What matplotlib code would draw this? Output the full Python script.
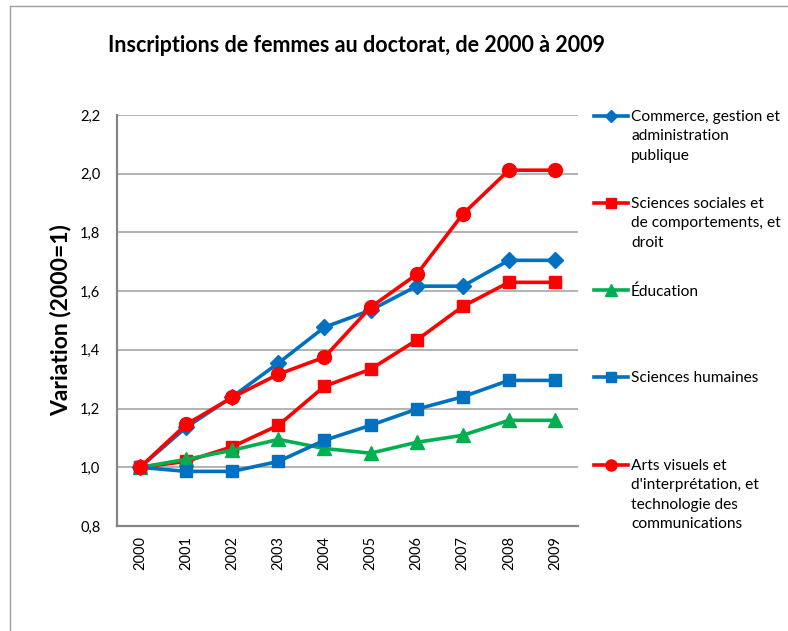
import matplotlib
matplotlib.use("Agg")
import matplotlib.pyplot as plt
from matplotlib.lines import Line2D

plt.rcParams['font.family'] = ['Lato', 'DejaVu Sans']

years = ['2000', '2001', '2002', '2003', '2004', '2005', '2006', '2007', '2008', '2009']
commerce = [1.0, 1.136, 1.240, 1.355, 1.477, 1.535, 1.617, 1.617, 1.705, 1.705]
sciences_sociales = [1.0, 1.020, 1.070, 1.143, 1.276, 1.334, 1.433, 1.548, 1.630, 1.630]
education = [1.0, 1.027, 1.058, 1.095, 1.064, 1.048, 1.085, 1.109, 1.160, 1.160]
sciences_humaines = [1.0, 0.986, 0.986, 1.020, 1.092, 1.143, 1.198, 1.240, 1.296, 1.296]
arts = [1.0, 1.146, 1.238, 1.317, 1.375, 1.545, 1.657, 1.862, 2.012, 2.012]

labels = ["Commerce, gestion et\nadministration\npublique",
          "Sciences sociales et\nde comportements, et\ndroit",
          "Éducation",
          "Sciences humaines",
          "Arts visuels et\nd'interprétation, et\ntechnologie des\ncommunications"]
yticks = [0.8, 1.0, 1.2, 1.4, 1.6, 1.8, 2.0, 2.2]
ytick_labels = ['0,8', '1,0', '1,2', '1,4', '1,6', '1,8', '2,0', '2,2']

BLUE = '#0070C0'
RED = '#FF0000'
GREEN = '#00B050'

series = [
    (commerce, BLUE, 'D', 8),
    (sciences_sociales, RED, 's', 8.5),
    (education, GREEN, '^', 10),
    (sciences_humaines, BLUE, 's', 8.5),
    (arts, RED, 'o', 10),
]

W, H = 788, 631
fig = plt.figure(figsize=(W / 100, H / 100), dpi=100)
ax = fig.add_axes([117 / W, 1 - 526 / H, (578 - 117) / W, (526 - 115) / H])

x = list(range(len(years)))
for vals, col, mk, ms in series:
    ax.plot(x, vals, color=col, lw=2.6, marker=mk, markersize=ms,
            markerfacecolor=col, markeredgecolor=col, zorder=3, clip_on=False)

ax.set_xlim(-0.5, len(years) - 0.5)
ax.set_ylim(0.8, 2.2)
ax.set_yticks(yticks)
ax.set_yticklabels(ytick_labels, fontsize=10.5)
ax.set_xticks(x)
ax.set_xticklabels(years, rotation=90, fontsize=10.5)
ax.tick_params(axis='both', length=0, pad=7)
ax.tick_params(axis='y', pad=12)
ax.yaxis.grid(True, color='#A6A6A6', lw=1.2)
ax.set_axisbelow(True)
for s in ['top', 'right']:
    ax.spines[s].set_visible(False)
for s in ['left', 'bottom']:
    ax.spines[s].set_color('#868686')
    ax.spines[s].set_linewidth(1.6)

ax.set_ylabel('Variation (2000=1)', fontsize=16.5, fontweight='bold', va='center')
ax.yaxis.set_label_coords(-(117 - 61) / (578 - 117), 0.5)

fig.text(357 / W, 1 - 45 / H, 'Inscriptions de femmes au doctorat, de 2000 à 2009',
         ha='center', va='center', fontsize=15.5, fontweight='bold')

# legend (manual)
leg_y = [116, 203, 290, 377, 465]
for (vals, col, mk, ms), lab, yy in zip(series, labels, leg_y):
    fy = 1 - yy / H
    fig.add_artist(Line2D([594 / W, 628 / W], [fy, fy], color=col, lw=2.6,
                          transform=fig.transFigure))
    fig.add_artist(Line2D([611 / W], [fy], color=col, marker=mk, markersize=ms * 0.8,
                          markerfacecolor=col, markeredgecolor=col,
                          transform=fig.transFigure))
    fig.text(631 / W, fy + 6 / H, lab, ha='left', va='top', fontsize=11.2,
             linespacing=1.5, transform=fig.transFigure)

# frame lines
fig.add_artist(Line2D([10 / W, 1.0], [1 - 6 / H, 1 - 6 / H], color='#A0A0A0', lw=1,
                      transform=fig.transFigure))
fig.add_artist(Line2D([10 / W, 10 / W], [0, 1 - 6 / H], color='#A0A0A0', lw=1,
                      transform=fig.transFigure))

fig.savefig('out.png', dpi=100)
